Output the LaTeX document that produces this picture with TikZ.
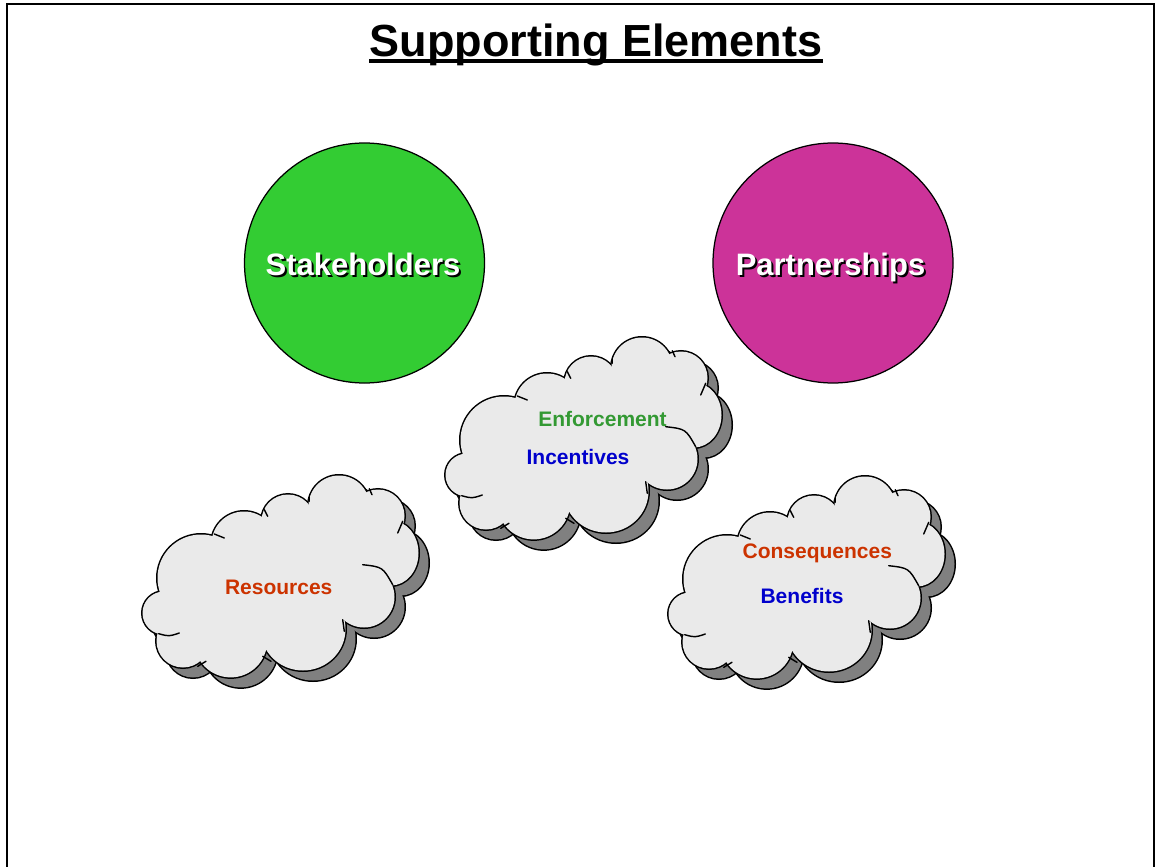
\documentclass[tikz,border=0pt]{standalone}
\usepackage{fontspec}
\setmainfont{Liberation Sans}
\usetikzlibrary{calc}
\definecolor{stakegreen}{HTML}{33CC33}
\definecolor{partmagenta}{HTML}{CC3399}
\definecolor{cldfill}{HTML}{EAEAEA}
\definecolor{cldshadow}{HTML}{808080}
\definecolor{txtgreen}{HTML}{339933}
\definecolor{txtblue}{HTML}{0000CC}
\definecolor{txtorange}{HTML}{CC3300}
% lobes of the cloud: centre x / centre y / x radius / y radius (px, relative to the cloud's corner)
\newcommand\lobelist{22/138/22/22,41/166/27/27,88.7/165.9/37/37,161/154/43/42,222/122/31/31,249/78/28/33,236/41/27/27,197/31/31/31,146/46/27/27,102/69/33/33,59/103/44/44}
\newcommand\cloudcore{(22,138) -- (41,166) -- (88.7,165.9) -- (161,154) -- (222,122) -- (249,78) -- (236,41) -- (197,31) -- (146,46) -- (102,69) -- (59,103) -- cycle}
\newcommand\cloudunion[1]{%
  \foreach \cx/\cy/\rx/\ry in \lobelist {%
    \path[lobeedge, fill=#1] (\cx,\cy) ellipse [x radius=\rx*0.6pt, y radius=\ry*0.6pt];}
  \fill[#1] \cloudcore;
  \foreach \cx/\cy/\rx/\ry in \lobelist {%
    \fill[#1] (\cx,\cy) ellipse [x radius=\rx*0.6pt-0.3pt, y radius=\ry*0.6pt-0.3pt];}}
\newcommand\drawcloud[2]{%
  \begin{scope}[shift={(#1+10,#2+10)}]
    \cloudunion{cldshadow}
  \end{scope}
  \begin{scope}[shift={(#1,#2)}]
    \cloudunion{cldfill}
    \draw[crease] (16.7,158.7) .. controls (27,161.5) .. (37.3,158);
    \draw[crease] (55.7,191.3) -- (64,186.3);
    \draw[crease] (120.7,181.3) -- (129,186.3);
    \draw[crease] (200.7,144.7) -- (202.3,156.3);
    \draw[crease] (220.7,89.7) .. controls (240.7,92) .. (250.7,109.7);
    \draw[crease] (255.7,58) -- (260.7,46.3);
    \draw[crease] (227.3,13.7) -- (230,19.7);
    \draw[crease] (167.3,19.7) -- (167.3,26.3);
    \draw[crease] (122.3,34.7) -- (125.7,41.3);
    \draw[crease] (72.3,59) -- (82.3,63);
  \end{scope}}
\tikzset{
  frameline/.style={line width=1.2pt, black},
  lobeedge/.style={draw=black, line width=1.2pt},
  crease/.style={draw=black, line width=0.85pt, line cap=round},
  titletext/.style={font=\bfseries\fontsize{27}{32}\selectfont, inner sep=0pt, anchor=base},
  bigcircle/.style={circle, draw=black, line width=0.75pt, minimum size=144pt, inner sep=0pt},
  circlabel/.style={font=\bfseries\fontsize{18.6}{22}\selectfont, inner sep=0pt, anchor=base, text=white},
  circshadow/.style={circlabel, text=black},
  cloudtext/.style={font=\bfseries\fontsize{12.6}{15}\selectfont, inner sep=0pt, anchor=base},
}
\begin{document}
\begin{tikzpicture}[x=0.6pt,y=-0.6pt]
\useasboundingbox (0,0) rectangle (1158,867);
\fill[white] (0,0) rectangle (1158,867);
\draw[frameline] (7,867) -- (7,4.3) -- (1153.5,4.3) -- (1153.5,867);
% title
\node[titletext] (title) at (596,56.5) {Supporting Elements};
\draw[line width=2pt] ($(title.base west)+(0,4.6)$) -- ($(title.base east)+(0,4.6)$);
% circles
\node[bigcircle, fill=stakegreen] (stake) at (364.5,263) {};
\node[bigcircle, fill=partmagenta] (partner) at (833,263) {};
\node[circshadow] (stakeshadow) at (365,277) {Stakeholders};
\node[circlabel] (stakelabel) at (363,275) {Stakeholders};
\node[circshadow] (partnershadow) at (832.5,277) {Partnerships};
\node[circlabel] (partnerlabel) at (830.5,275) {Partnerships};
% clouds
\drawcloud{445}{337}
\drawcloud{142}{475}
\drawcloud{668}{476}
\node[cloudtext, text=txtgreen] (enforce) at (602.5,426) {Enforcement};
\node[cloudtext, text=txtblue] (incent) at (578,464.3) {Incentives};
\node[cloudtext, text=txtorange] (resource) at (278.7,594) {Resources};
\node[cloudtext, text=txtorange] (conseq) at (817.3,558.7) {Consequences};
\node[cloudtext, text=txtblue] (benefit) at (802,603.3) {Benefits};
\end{tikzpicture}
\end{document}
